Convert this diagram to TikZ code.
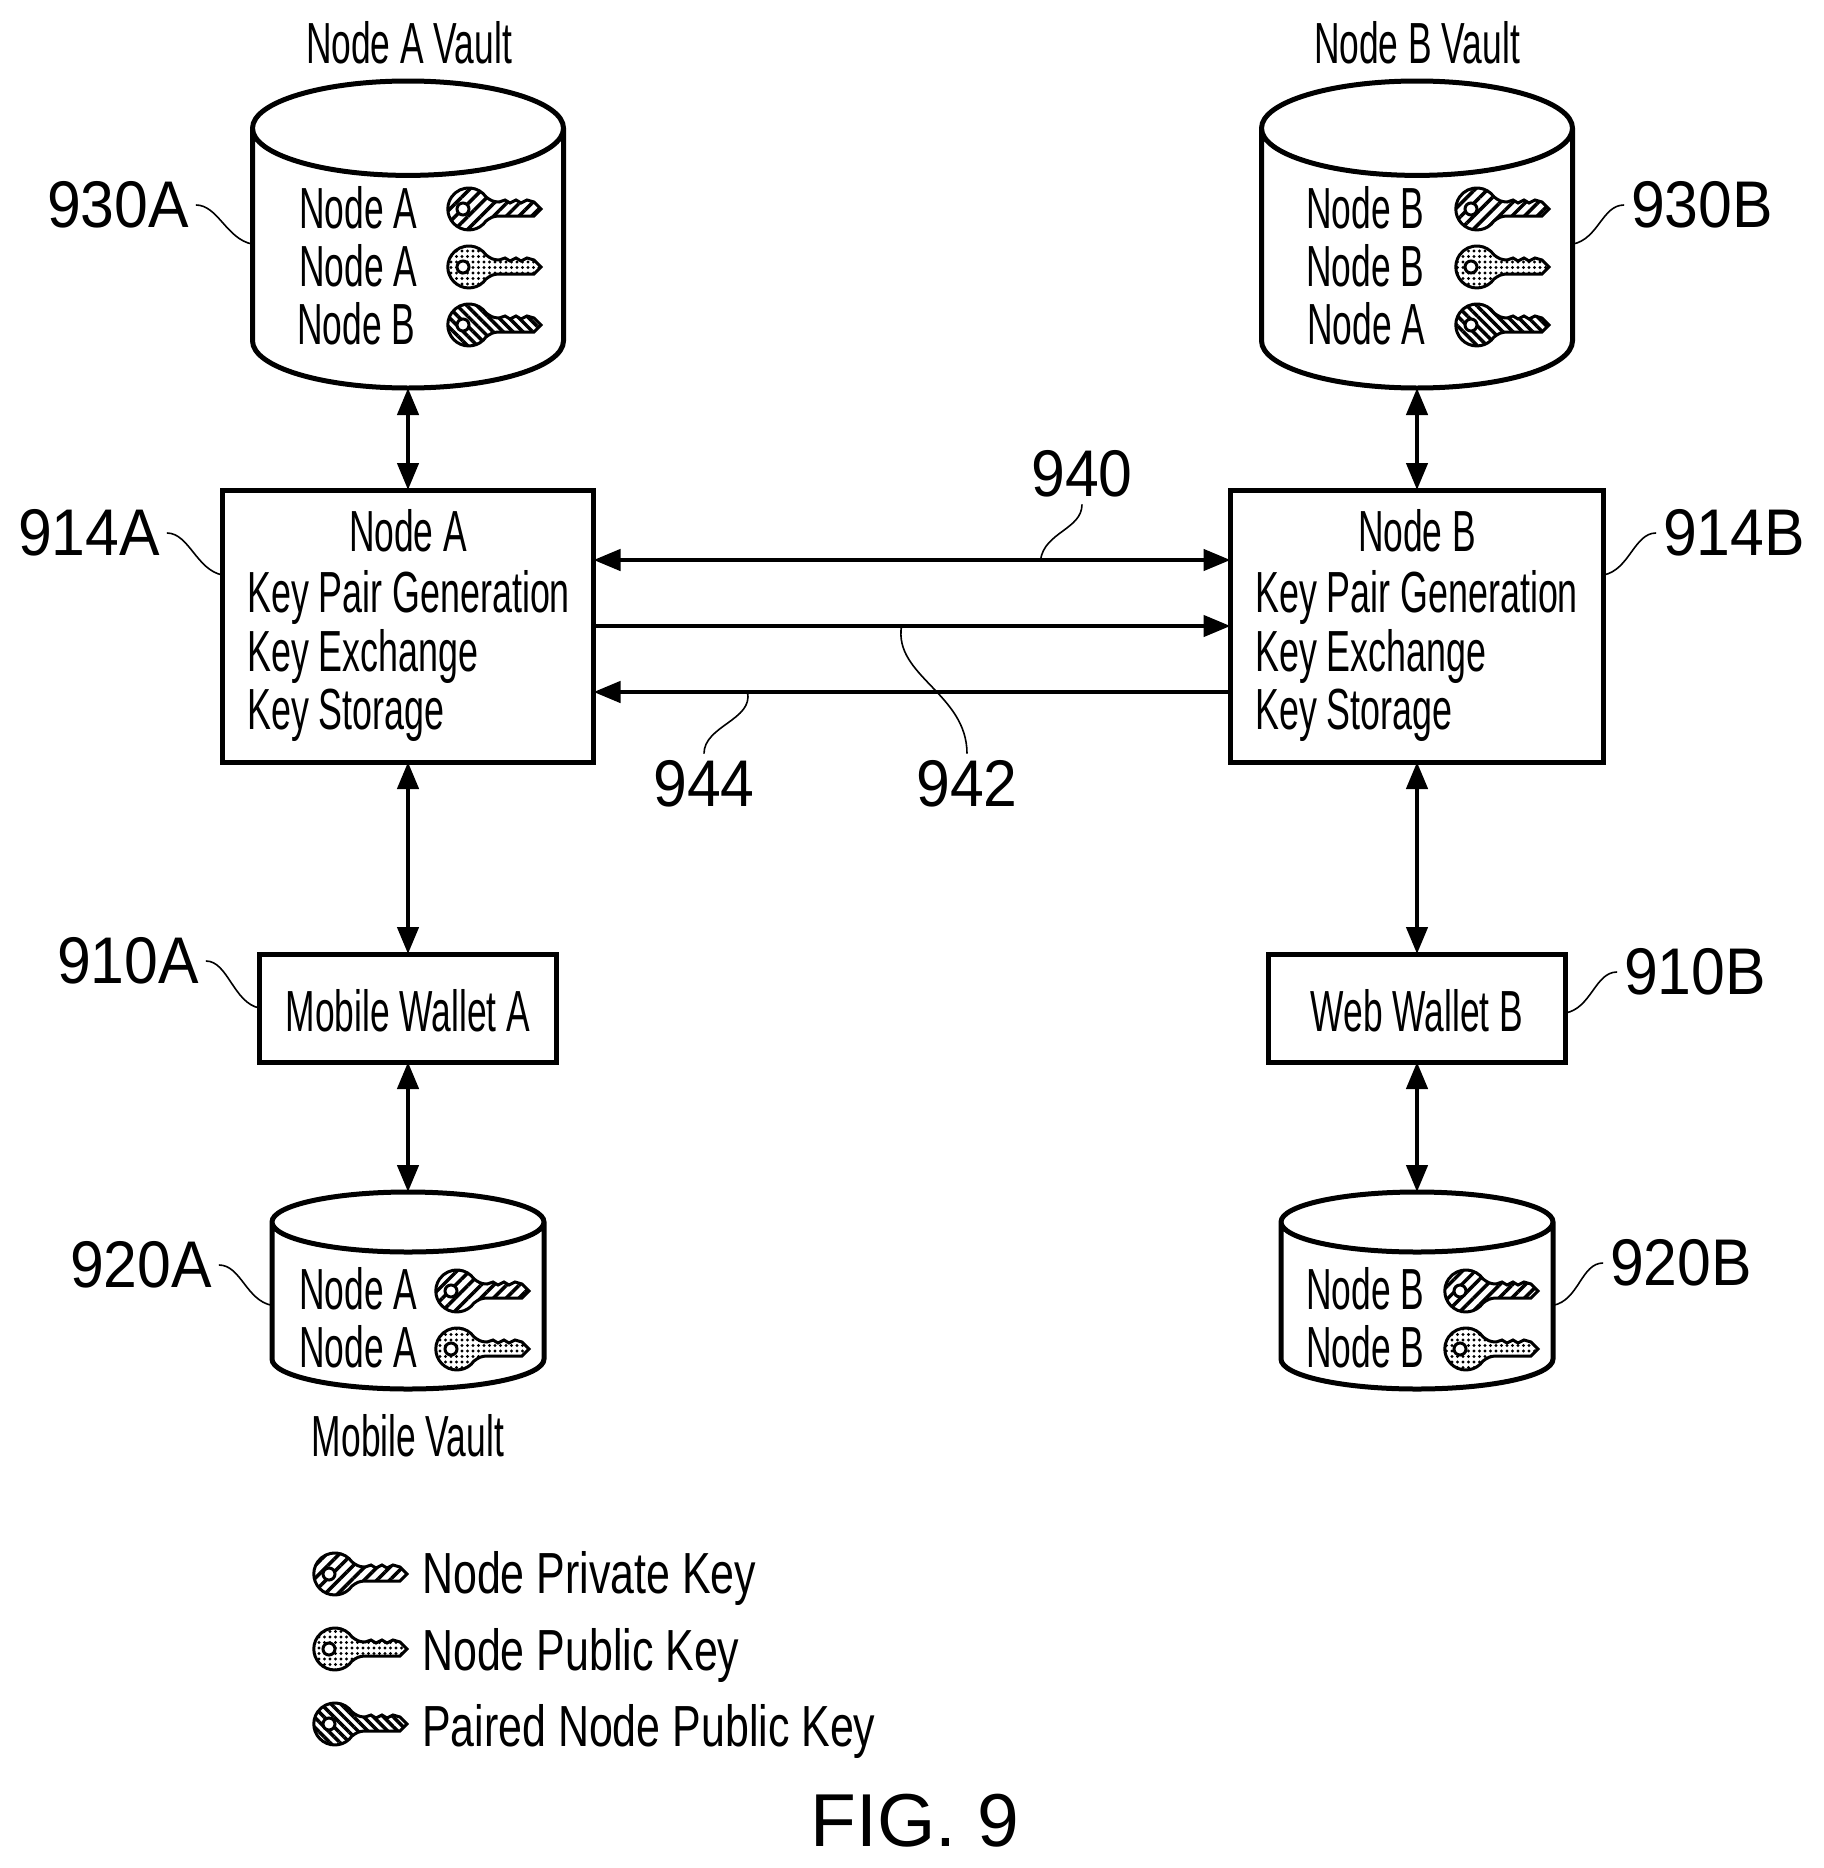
\documentclass[tikz,border=0pt]{standalone}
\usepackage{fontspec}
\usetikzlibrary{shapes.geometric,arrows.meta,patterns.meta}
\newfontfamily\slimfont[FakeStretch=0.61]{Liberation Sans}
\newfontfamily\boxfont[FakeStretch=0.618]{Liberation Sans}
\newfontfamily\legendfont[FakeStretch=0.74]{Liberation Sans}
\newfontfamily\numfont[FakeStretch=0.92]{Liberation Sans}
\newfontfamily\figfont{Liberation Sans}

\begin{document}
\begin{tikzpicture}[yscale=-1
,vaultstyle/.style={draw=black,line width=5pt,shape=cylinder,shape border rotate=90,inner xsep=40pt,inner ysep=10pt,outer sep=0pt,anchor=shape center}
,bigvault/.style={vaultstyle,minimum width=311pt,minimum height=307pt,aspect=1.18}
,smallvault/.style={vaultstyle,minimum width=272pt,minimum height=197pt,aspect=0.75}
,boxstyle/.style={draw=black,line width=5pt,inner sep=0pt,outer sep=0pt}
,txtstyle/.style={inner sep=0pt,font=\slimfont\fontsize{58pt}{60pt}\selectfont}
,boxtxt/.style={inner sep=0pt,anchor=west,font=\boxfont\fontsize{58pt}{60pt}\selectfont}
,legstyle/.style={inner sep=0pt,anchor=west,font=\legendfont\fontsize{58pt}{60pt}\selectfont}
,numstyle/.style={inner sep=0pt,outer sep=7pt,font=\numfont\fontsize{66pt}{68pt}\selectfont}
,pstyle0/.style={color=black,line width=4.5pt,{Triangle[length=27pt,width=21pt]}-{Triangle[length=27pt,width=21pt]}}
,pstyle1/.style={color=black,line width=4.5pt,-{Triangle[length=27pt,width=21pt]}}
,pstyle2/.style={color=black,line width=1.6pt}
,keyline/.style={draw=black,line width=3pt}
,privatekey/.style={pattern={Lines[angle=45,distance=9pt,line width=3.5pt]}}
,publickey/.style={pattern={Dots[radius=1.7pt,distance=5.5pt]}}
,pairedkey/.style={pattern={Lines[angle=-45,distance=7pt,line width=3.5pt]}}
,pics/keyicon/.style={code={
  \draw[keyline,#1] (37pt,-12pt) arc(-35:-325:21pt) .. controls (41pt,9pt) and (44pt,7pt) .. (50pt,7pt) -- (56pt,9pt) -- (61pt,6pt) -- (67pt,9pt) -- (72pt,6pt) -- (78pt,9pt) -- (85pt,7pt) -- (92pt,0pt) -- (85pt,-7pt) -- (50pt,-7pt) .. controls (44pt,-7pt) and (41pt,-9pt) .. (37pt,-12pt) -- cycle;
  \draw[keyline,fill=white] (14pt,0pt) circle (6pt);
}}
]
\useasboundingbox (0pt,0pt) rectangle (1823pt,1868pt);

% Vault A and its keys
\node (ttlA) at (409pt,43pt)[txtstyle]{Node A Vault};
\node (vault930A) at (408pt,234.5pt)[bigvault]{};
\node (rowA1) at (299pt,208pt)[txtstyle,anchor=west]{Node A};
\node (rowA2) at (299pt,266pt)[txtstyle,anchor=west]{Node A};
\node (rowA3) at (297pt,324pt)[txtstyle,anchor=west]{Node B};
\pic at (449pt,209pt) {keyicon=privatekey};
\pic at (449pt,267pt) {keyicon=publickey};
\pic at (449pt,325pt) {keyicon=pairedkey};

% Vault B and its keys
\node (ttlB) at (1417pt,43pt)[txtstyle]{Node B Vault};
\node (vault930B) at (1417pt,234.5pt)[bigvault]{};
\node (rowB1) at (1306pt,208pt)[txtstyle,anchor=west]{Node B};
\node (rowB2) at (1306pt,266pt)[txtstyle,anchor=west]{Node B};
\node (rowB3) at (1307pt,324pt)[txtstyle,anchor=west]{Node A};
\pic at (1457pt,209pt) {keyicon=privatekey};
\pic at (1457pt,267pt) {keyicon=publickey};
\pic at (1457pt,325pt) {keyicon=pairedkey};

% Node boxes
\node (box914A) at (408pt,626pt)[boxstyle,minimum width=371pt,minimum height=272pt]{};
\node (nameA) at (408pt,531pt)[txtstyle]{Node A};
\node (genA) at (247pt,597pt)[boxtxt]{Key Pair Generation};
\node (excA) at (247pt,656pt)[boxtxt]{Key Exchange};
\node (stoA) at (247pt,715pt)[boxtxt]{Key Storage};
\node (box914B) at (1417pt,626pt)[boxstyle,minimum width=373pt,minimum height=272pt]{};
\node (nameB) at (1417pt,531pt)[txtstyle]{Node B};
\node (genB) at (1255pt,597pt)[boxtxt]{Key Pair Generation};
\node (excB) at (1255pt,656pt)[boxtxt]{Key Exchange};
\node (stoB) at (1255pt,715pt)[boxtxt]{Key Storage};

% Wallets
\node (wal910A) at (408pt,1008pt)[boxstyle,minimum width=297pt,minimum height=108pt]{};
\node (walA) at (408pt,1011pt)[txtstyle]{Mobile Wallet A};
\node (wal910B) at (1417pt,1008pt)[boxstyle,minimum width=297pt,minimum height=108pt]{};
\node (walB) at (1417pt,1011pt)[txtstyle]{Web Wallet B};

% Small vaults
\node (vault920A) at (408pt,1290.5pt)[smallvault]{};
\node (rowC1) at (299pt,1289pt)[txtstyle,anchor=west]{Node A};
\node (rowC2) at (299pt,1347pt)[txtstyle,anchor=west]{Node A};
\pic at (437pt,1291pt) {keyicon=privatekey};
\pic at (437pt,1349pt) {keyicon=publickey};
\node (ttlC) at (408pt,1436pt)[txtstyle]{Mobile Vault};
\node (vault920B) at (1417pt,1290.5pt)[smallvault]{};
\node (rowD1) at (1306pt,1289pt)[txtstyle,anchor=west]{Node B};
\node (rowD2) at (1306pt,1347pt)[txtstyle,anchor=west]{Node B};
\pic at (1446pt,1291pt) {keyicon=privatekey};
\pic at (1446pt,1349pt) {keyicon=publickey};

% Connectors
\draw[pstyle0] (vault930A.south) -- (box914A.north);
\draw[pstyle0] (box914A.south) -- (wal910A.north);
\draw[pstyle0] (wal910A.south) -- (vault920A.north);
\draw[pstyle0] (vault930B.south) -- (box914B.north);
\draw[pstyle0] (box914B.south) -- (wal910B.north);
\draw[pstyle0] (wal910B.south) -- (vault920B.north);
\draw[pstyle0] ([yshift=-66pt]box914A.east) -- ([yshift=-66pt]box914B.west);
\draw[pstyle1] (box914A.east) -- (box914B.west);
\draw[pstyle1] ([yshift=66pt]box914B.west) -- ([yshift=66pt]box914A.east);

% Reference numbers
\node (lbl930A) at (118pt,205pt)[numstyle]{930A};
\node (lbl930B) at (1702pt,205pt)[numstyle]{930B};
\node (lbl914A) at (89pt,533pt)[numstyle]{914A};
\node (lbl914B) at (1734pt,533pt)[numstyle]{914B};
\node (lbl910A) at (128pt,961pt)[numstyle]{910A};
\node (lbl910B) at (1695pt,972pt)[numstyle]{910B};
\node (lbl920A) at (141pt,1265pt)[numstyle]{920A};
\node (lbl920B) at (1681pt,1263pt)[numstyle]{920B};
\node (lbl940) at (1082pt,474pt)[numstyle]{940};
\node (lbl942) at (967pt,784pt)[numstyle]{942};
\node (lbl944) at (704pt,784pt)[numstyle]{944};
\draw[pstyle2] (lbl930A.east) .. controls +(22pt,0pt) and +(-26pt,-5pt) .. ([yshift=-31pt]vault930A.west);
\draw[pstyle2] (lbl930B.west) .. controls +(-22pt,0pt) and +(26pt,-5pt) .. ([yshift=-31pt]vault930B.east);
\draw[pstyle2] (lbl914A.east) .. controls +(22pt,0pt) and +(-26pt,-5pt) .. ([yshift=-51pt]box914A.west);
\draw[pstyle2] (lbl914B.west) .. controls +(-22pt,0pt) and +(26pt,-5pt) .. ([yshift=-51pt]box914B.east);
\draw[pstyle2] (lbl910A.east) .. controls +(22pt,0pt) and +(-26pt,-5pt) .. (wal910A.west);
\draw[pstyle2] (lbl910B.west) .. controls +(-22pt,0pt) and +(26pt,-5pt) .. ([yshift=5pt]wal910B.east);
\draw[pstyle2] (lbl920A.east) .. controls +(22pt,0pt) and +(-26pt,-5pt) .. ([yshift=-12pt]vault920A.west);
\draw[pstyle2] (lbl920B.west) .. controls +(-22pt,0pt) and +(26pt,-5pt) .. ([yshift=-12pt]vault920B.east);
\draw[pstyle2] (lbl940.south) .. controls +(0pt,25pt) and +(4pt,-28pt) .. ([xshift=-190pt,yshift=-66pt]box914B.west);
\draw[pstyle2] (lbl942.north) .. controls +(0pt,-60pt) and +(-8pt,50pt) .. ([xshift=308pt]box914A.east);
\draw[pstyle2] (lbl944.north) .. controls +(0pt,-28pt) and +(6pt,28pt) .. ([xshift=154pt,yshift=66pt]box914A.east);

% Legend
\pic at (315pt,1574pt) {keyicon=privatekey};
\pic at (315pt,1649pt) {keyicon=publickey};
\pic at (315pt,1724pt) {keyicon=pairedkey};
\node (legPriv) at (422pt,1578pt)[legstyle]{Node Private Key};
\node (legPub) at (422pt,1655pt)[legstyle]{Node Public Key};
\node (legPair) at (422pt,1731pt)[legstyle]{Paired Node Public Key};

\node (figcap) at (915pt,1821pt)[inner sep=0pt,font=\figfont\fontsize{75pt}{78pt}\selectfont]{FIG. 9};
\end{tikzpicture}
\end{document}
